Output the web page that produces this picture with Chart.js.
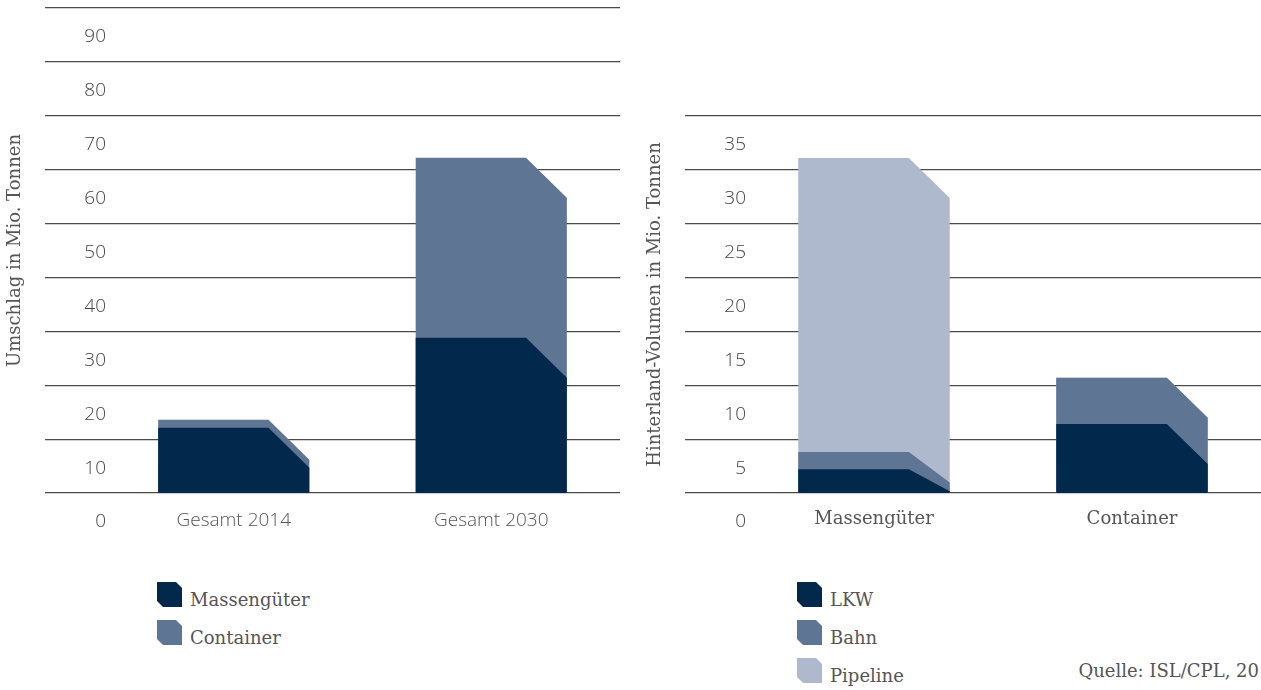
<!DOCTYPE html>
<html>
<head>
<meta charset="utf-8">
<script src="https://cdn.jsdelivr.net/npm/chart.js@4.4.1/dist/chart.umd.min.js"></script>
<style>
  body { margin: 0; width: 1261px; height: 690px; position: relative; background: #fff; overflow: hidden; }
  canvas { position: absolute; top: 0; }
  #leftChart { left: 0; }
  #rightChart { left: 640px; }
  .legend { position: absolute; top: 582px; font-family: "DejaVu Serif", serif; font-size: 18px; color: #555; }
  .legend .item { position: absolute; left: 0; height: 25px; white-space: nowrap; }
  .legend .box { position: absolute; left: 0; top: 0; width: 25px; height: 25px;
    clip-path: polygon(0 0, 76% 0, 100% 24%, 100% 100%, 24% 100%, 0 76%); }
  .legend .txt { position: absolute; left: 33px; top: 5px; line-height: 25px; }
  #source { position: absolute; right: 2px; top: 660px; font-family: "DejaVu Serif", serif; font-size: 18px; color: #555; }
</style>
</head>
<body>
<canvas id="leftChart" width="630" height="560"></canvas>
<canvas id="rightChart" width="621" height="560"></canvas>
<div class="legend" id="leftLegend" style="left:157px"></div>
<div class="legend" id="rightLegend" style="left:797px"></div>
<div id="source">Quelle: ISL/CPL, 20</div>
<script>
// left panel: Umschlag
const leftCategories = ["Gesamt 2014", "Gesamt 2030"];
const leftMassengueter = [12.1, 28.8];
const leftContainer = [1.5, 33.4];
const leftSeriesNames = ["Massengüter", "Container"];

// right panel: Hinterland-Volumen
const rightCategories = ["Massengüter", "Container"];
const rightLkw = [2.2, 6.4];
const rightBahn = [1.6, 4.3];
const rightPipeline = [27.3, 0];
const rightSeriesNames = ["LKW", "Bahn", "Pipeline"];

const navy = "#02284c";
const steel = "#5f7594";
const pale = "#aeb9cd";

// bars with the top right corner cut off, drawn back to front
const chamferBars = {
  id: "chamferBars",
  beforeDatasetsDraw(chart) {
    const ctx = chart.ctx;
    const base = chart.scales.y.getPixelForValue(0);
    ctx.save();
    for (let d = chart.data.datasets.length - 1; d >= 0; d--) {
      const meta = chart.getDatasetMeta(d);
      ctx.fillStyle = chart.data.datasets[d].backgroundColor;
      meta.data.forEach((bar) => {
        const h = base - bar.y;
        if (h < 0.5) return;
        const left = bar.x - bar.width / 2;
        const right = bar.x + bar.width / 2;
        const dx = bar.width * 0.27;
        const dy = Math.min(40, 10 + h * 0.5, h);
        ctx.beginPath();
        ctx.moveTo(left, base);
        ctx.lineTo(left, bar.y);
        ctx.lineTo(right - dx, bar.y);
        ctx.lineTo(right, bar.y + dy);
        ctx.lineTo(right, base);
        ctx.closePath();
        ctx.fill();
      });
    }
    ctx.restore();
    return false;
  },
};

function makeChart(id, labels, datasets, max, step, title, topPad, rightPad, xFont) {
  return new Chart(document.getElementById(id), {
    type: "bar",
    data: { labels: labels, datasets: datasets },
    plugins: [chamferBars],
    options: {
      responsive: false,
      animation: false,
      events: [],
      layout: { padding: { top: topPad, right: rightPad, bottom: 0, left: 0 } },
      plugins: { legend: { display: false }, tooltip: { enabled: false } },
      datasets: { bar: { categoryPercentage: 0.587, barPercentage: 1 } },
      scales: {
        x: {
          stacked: true,
          afterFit: (scale) => { scale.height = 67; scale.paddingLeft = 0; scale.paddingRight = 0; },
          grid: { display: false, drawTicks: false },
          border: { display: false },
          ticks: { padding: 16, color: "#555", font: xFont },
        },
        y: {
          stacked: true,
          min: 0,
          max: max,
          afterFit: (scale) => { scale.width = 105; scale.paddingTop = 0; scale.paddingBottom = 0; },
          border: { display: false },
          grid: { color: "#4a4a4a", lineWidth: 1.2, tickLength: 60 },
          ticks: {
            stepSize: step,
            labelOffset: 29,
            padding: -61,
            color: "#444",
            font: { family: "Open Sans", size: 19, weight: "300" },
          },
          title: {
            display: true,
            text: title,
            color: "#555",
            font: { family: "DejaVu Serif", size: 18 },
            padding: { top: 5, bottom: 0 },
          },
        },
      },
    },
  });
}

makeChart("leftChart", leftCategories, [
  { label: leftSeriesNames[0], data: leftMassengueter, backgroundColor: navy },
  { label: leftSeriesNames[1], data: leftContainer, backgroundColor: steel },
], 90, 10, "Umschlag in Mio. Tonnen", 8, 10, { family: "Open Sans", size: 19, weight: "300" });

makeChart("rightChart", rightCategories, [
  { label: rightSeriesNames[0], data: rightLkw, backgroundColor: navy },
  { label: rightSeriesNames[1], data: rightBahn, backgroundColor: steel },
  { label: rightSeriesNames[2], data: rightPipeline, backgroundColor: pale },
], 35, 5, "Hinterland-Volumen in Mio. Tonnen", 116, 0, { family: "DejaVu Serif", size: 18 });

function buildLegend(id, names, colors, gap) {
  const el = document.getElementById(id);
  names.forEach((name, i) => {
    const item = document.createElement("div");
    item.className = "item";
    item.style.top = (i * gap) + "px";
    item.innerHTML = '<span class="box" style="background:' + colors[i] + '"></span><span class="txt">' + name + "</span>";
    el.appendChild(item);
  });
}
buildLegend("leftLegend", leftSeriesNames, [navy, steel], 38);
buildLegend("rightLegend", rightSeriesNames, [navy, steel, pale], 38);
</script>
</body>
</html>
